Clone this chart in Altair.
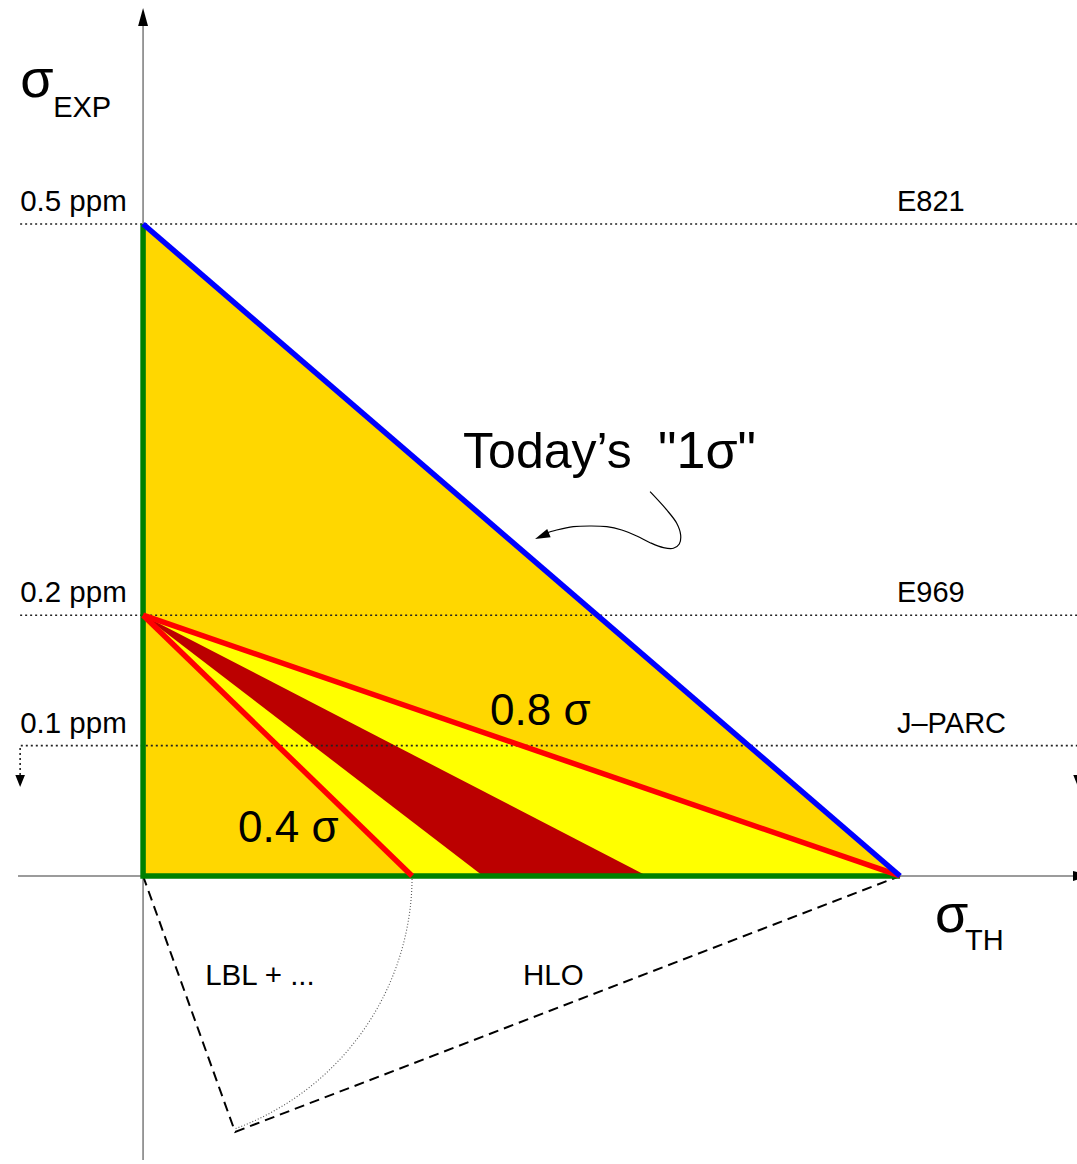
import altair as alt
import pandas as pd

# ---------------------------------------------------------------
# sigma_TH (ppm) runs to the right, sigma_EXP (ppm) runs upwards
# ---------------------------------------------------------------
W, H = 1077, 1164
X_DOMAIN = [-0.0945, 0.6169]
Y_DOMAIN = [-0.2209, 0.6718]

# experimental goals
exp_levels = [0.5, 0.2, 0.1]
exp_labels = ["0.5 ppm", "0.2 ppm", "0.1 ppm"]
experiments = ["E821", "E969", "J\u2013PARC"]

# today's total error budget (corner on the sigma_TH axis)
th_full = 0.5
# apex of the fan (E969 goal)
exp_fan = 0.2
# 0.4 sigma line reaches sigma_EXP = 0 here
th_04 = 0.1777
# dark band on sigma_EXP = 0
band_lo, band_hi = 0.2246, 0.3329
# corner of the LBL / HLO right triangle
lbl_corner_x, lbl_corner_y = 0.0608, -0.1963
# radius of the LBL circle (= th_04 on the axis)
lbl_radius = th_04

# annotation curl pointing at the blue line
curl_x = [0.3349, 0.3459, 0.3525, 0.3551, 0.3542, 0.3503, 0.3437, 0.3349,
          0.3261, 0.3162, 0.3063, 0.2952, 0.2842, 0.2732, 0.2644]
curl_y = [0.2947, 0.2807, 0.2705, 0.2615, 0.2546, 0.2513, 0.2518, 0.2556,
          0.2607, 0.2653, 0.2679, 0.2684, 0.2679, 0.2653, 0.2623]
curl_head = (0.2635, 0.2607)

# frame extents
axis_left, axis_bottom = -0.0826, -0.2178
axis_top_arrow = 0.6587
axis_right_arrow = 0.6202
guide_left, guide_right = -0.0812, 0.6176
guide_drop, guide_drop_head = 0.0775, 0.0729

FONT = "Liberation Sans"

xs = alt.Scale(domain=X_DOMAIN, nice=False, zero=False)
ys = alt.Scale(domain=Y_DOMAIN, nice=False, zero=False)


def path_df(xv, yv, group="a"):
    return pd.DataFrame({"x": xv, "y": yv, "o": list(range(len(xv))), "g": group})


def placed(chart, ordered=True):
    enc = dict(
        x=alt.X("x:Q", scale=xs, axis=None),
        y=alt.Y("y:Q", scale=ys, axis=None),
    )
    if ordered:
        enc["order"] = alt.Order("o:Q")
        enc["detail"] = alt.Detail("g:N")
    return chart.encode(**enc)


def polygon(xv, yv, colour):
    return placed(alt.Chart(path_df(xv, yv)).mark_line(
        fill=colour, strokeWidth=0, strokeOpacity=0))


def polyline(df, colour, width, dash=None, cap="butt"):
    kw = dict(color=colour, strokeWidth=width, strokeCap=cap, strokeJoin="miter")
    if dash is not None:
        kw["strokeDash"] = dash
    return placed(alt.Chart(df).mark_line(**kw))


def symbol(xv, yv, shape, size, angle=0, **style):
    df = pd.DataFrame({"x": xv, "y": yv})
    return placed(alt.Chart(df).mark_point(
        shape=shape, size=size, angle=angle, opacity=1, **style), ordered=False)


def texts(xv, yv, labels, size, dy=0, font=FONT):
    df = pd.DataFrame({"x": xv, "y": yv, "t": labels})
    return placed(alt.Chart(df).mark_text(
        align="left", baseline="alphabetic", fontSize=size, dy=dy,
        font=font, color="black"), ordered=False).encode(text="t:N")


layers = []

# filled regions
layers.append(polygon([0, 0, th_full], [0, exp_levels[0], 0], "#FFD700"))
layers.append(polygon([0, th_04, th_full], [exp_fan, 0, 0], "#FFFF00"))
layers.append(polygon([0, band_lo, band_hi], [exp_fan, 0, 0], "#BB0000"))

# axes
axes_df = pd.concat([
    path_df([0, 0], [axis_bottom, axis_top_arrow], "v"),
    path_df([axis_left, X_DOMAIN[1]], [0, 0], "h"),
])
layers.append(polyline(axes_df, "#7a7a7a", 1.5))
layers.append(symbol([0], [axis_top_arrow], "M0,-1L-0.55,1L0.55,1Z", 324,
                     filled=True, color="black", strokeWidth=0))
layers.append(symbol([axis_right_arrow], [0], "M1,0L-1,-0.55L-1,0.55Z", 324,
                     filled=True, color="black", strokeWidth=0))

# dotted goal levels
dotted = pd.concat([
    path_df([guide_left, X_DOMAIN[1]], [exp_levels[0]] * 2, "l0"),
    path_df([guide_left, X_DOMAIN[1]], [exp_levels[1]] * 2, "l1"),
    path_df([guide_left, guide_left, guide_right, guide_right],
            [guide_drop, exp_levels[2], exp_levels[2], guide_drop], "l2"),
])
layers.append(polyline(dotted, "#222222", 1.6, dash=[2, 3]))
layers.append(symbol([guide_left, guide_right], [guide_drop_head] * 2,
                     "M0,1L-0.8,-1L0.8,-1Z", 144,
                     filled=True, color="black", strokeWidth=0))

# LBL / HLO construction
layers.append(polyline(
    path_df([0, lbl_corner_x, th_full], [0, lbl_corner_y, 0], "d"),
    "black", 2, dash=[10, 6]))
radius_px = lbl_radius / (X_DOMAIN[1] - X_DOMAIN[0]) * W
layers.append(symbol([0], [0], "M1,0A1,1 0 0,1 0.338,0.941",
                     (2 * radius_px) ** 2, filled=False, fill="transparent",
                     color="#555555", strokeWidth=1.1, strokeDash=[1, 2]))

# boundary lines
layers.append(polyline(path_df([0, 0, th_full], [exp_levels[0], 0, 0], "g"),
                       "#008000", 5.5))
reds = pd.concat([
    path_df([0, th_04], [exp_fan, 0], "r4"),
    path_df([0, th_full], [exp_fan, 0], "r8"),
])
layers.append(polyline(reds, "#FF0000", 5.5))
layers.append(polyline(path_df([0, th_full], [exp_levels[0], 0], "b"),
                       "#0000FF", 5.5))

# annotation curl
curl_df = path_df(curl_x, curl_y, "c")
layers.append(placed(alt.Chart(curl_df).mark_line(
    color="black", strokeWidth=1.2, interpolate="catmull-rom")))
layers.append(symbol([curl_head[0]], [curl_head[1]], "M1,0L-1,-0.6L-1,0.6Z",
                     225, angle=157.5, filled=True, color="black", strokeWidth=0))

# labels
layers.append(texts([guide_left] * 3, exp_levels, exp_labels, 29.5, dy=-13))
layers.append(texts([0.498] * 3, exp_levels, experiments, 29, dy=-13))
layers.append(texts([0.2114], [0.3129], ["Today\u2019s"], 50))
layers.append(texts([0.3402], [0.3129], ["\"1\u03c3\""], 52))
layers.append(texts([0.2292, 0.0627], [0.1158, 0.0261],
                    ["0.8 \u03c3", "0.4 \u03c3"], 44))
layers.append(texts([-0.0812, 0.5231], [0.5974, -0.0429],
                    ["\u03c3", "\u03c3"], 54))
layers.append(texts([-0.0594, 0.5429], [0.5821, -0.0567],
                    ["EXP", "TH"], 29))
layers.append(texts([0.0410, 0.2510], [-0.0836, -0.0836],
                    ["LBL + ...", "HLO"], 29.5))

chart = alt.layer(*layers).properties(
    width=W, height=H, autosize=alt.AutoSizeParams(type="none"), padding=0,
    background="white",
).configure_view(stroke=None)

chart.save("out.html", embed_options={"renderer": "svg", "actions": False})
